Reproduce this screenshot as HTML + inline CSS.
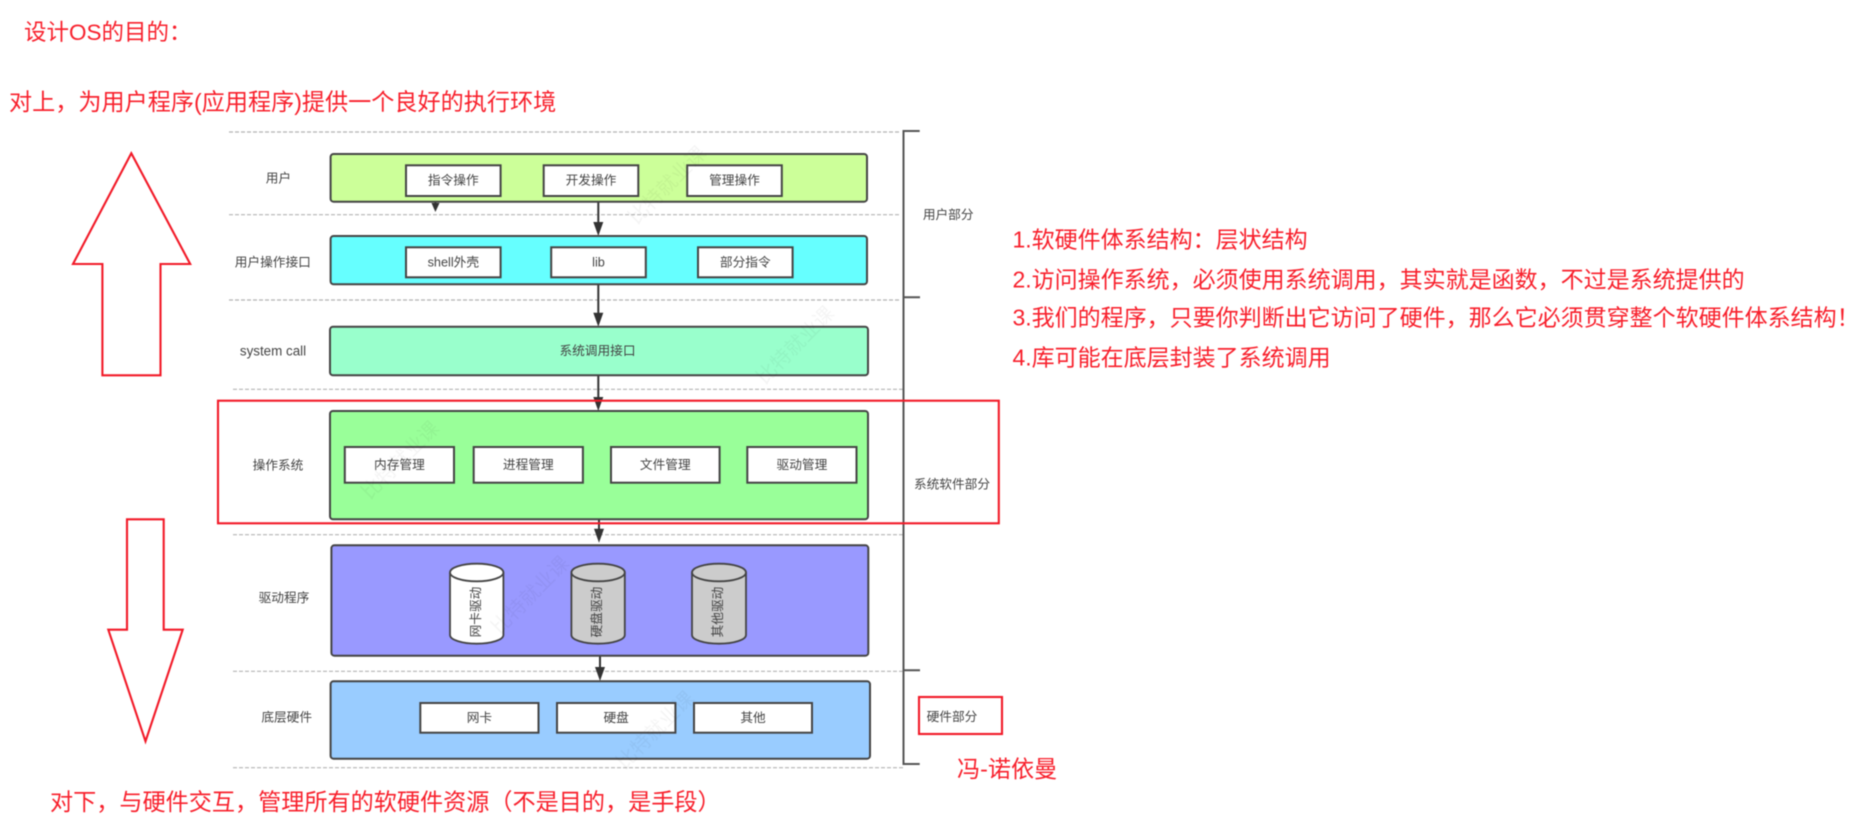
<!DOCTYPE html>
<html lang="zh">
<head>
<meta charset="utf-8">
<title>设计OS的目的</title>
<style>
html,body{margin:0;padding:0;background:#fff;width:1866px;height:828px;overflow:hidden}
svg{display:block;filter:blur(.45px)}
text{font-family:"Liberation Sans","Noto Sans CJK SC",sans-serif}
.red{fill:#f8202c;font-size:23.13px}
.note{font-size:23px}
.lab{fill:#444;font-size:12.7px;text-anchor:middle;dominant-baseline:central}
.dash{stroke:#b4b4b4;stroke-width:1.2;stroke-dasharray:4 2;fill:none}
.layer{stroke:#444;stroke-width:2}
.inner{fill:#fff;stroke:#444;stroke-width:2}
.arr{stroke:#333;stroke-width:2;fill:none}
.head{fill:#333;stroke:none}
.rl{fill:none;stroke:#f21a28;stroke-width:2.1}
.br{stroke:#555;stroke-width:2;fill:none}
.cyl{stroke:#444;stroke-width:1.8}
.wm{fill:#000;opacity:.04;font-size:20px;text-anchor:middle}
</style>
</head>
<body>
<svg width="1866" height="828" viewBox="0 0 1866 828" xmlns="http://www.w3.org/2000/svg">
<rect width="1866" height="828" fill="#fff"/>

<!-- top headings -->
<text class="red" x="24" y="40" style="font-size:22.5px">设计OS的目的：</text>
<text class="red" x="9" y="110">对上，为用户程序(应用程序)提供一个良好的执行环境</text>

<!-- dashed separators -->
<line class="dash" x1="229" y1="132" x2="899" y2="132"/>
<line class="dash" x1="229" y1="214.7" x2="899" y2="214.7"/>
<line class="dash" x1="229" y1="300" x2="899" y2="300"/>
<line class="dash" x1="233" y1="389.3" x2="903" y2="389.3"/>
<line class="dash" x1="233" y1="534.7" x2="903" y2="534.7"/>
<line class="dash" x1="233" y1="671.3" x2="903" y2="671.3"/>
<line class="dash" x1="233" y1="767.7" x2="903" y2="767.7"/>

<!-- connectors -->
<line class="arr" x1="435.4" y1="201" x2="435.4" y2="206"/>
<polygon class="head" points="431.5,203 439.5,203 435.4,212"/>
<line class="arr" x1="598.3" y1="201" x2="598.3" y2="224"/>
<polygon class="head" points="593.3,222 603.3,222 598.3,236"/>
<line class="arr" x1="598.3" y1="284" x2="598.3" y2="315"/>
<polygon class="head" points="593.3,312.7 603.3,312.7 598.3,326.7"/>
<line class="arr" x1="598.3" y1="375" x2="598.3" y2="400"/>
<polygon class="head" points="593.3,397 603.3,397 598.3,411"/>
<line class="arr" x1="599" y1="519" x2="599" y2="531"/>
<polygon class="head" points="594,528.7 604,528.7 599,542.7"/>
<line class="arr" x1="600" y1="655" x2="600" y2="670"/>
<polygon class="head" points="595,667 605,667 600,681"/>

<!-- layer 1: user -->
<rect class="layer" x="330.6" y="154" width="536.4" height="47.7" rx="3" fill="#ccff99" stroke="#222"/>
<rect class="inner" x="406" y="165.3" width="94.6" height="30.7"/>
<rect class="inner" x="543.7" y="165.3" width="94.6" height="30.7"/>
<rect class="inner" x="687.2" y="165.3" width="94.6" height="30.7"/>
<text class="lab" x="453.3" y="180.7">指令操作</text>
<text class="lab" x="591" y="180.7">开发操作</text>
<text class="lab" x="734.5" y="180.7">管理操作</text>

<!-- layer 2: user interface -->
<rect class="layer" x="330.6" y="236" width="536.4" height="48.3" rx="3" fill="#66ffff"/>
<rect class="inner" x="406" y="247.3" width="94.6" height="30"/>
<rect class="inner" x="551.2" y="247.3" width="94.6" height="30"/>
<rect class="inner" x="698" y="247.3" width="94.6" height="30"/>
<text class="lab" x="453.3" y="262.3">shell外壳</text>
<text class="lab" x="598.5" y="262.3">lib</text>
<text class="lab" x="745.3" y="262.3">部分指令</text>

<!-- layer 3: system call -->
<rect class="layer" x="330" y="326.7" width="538" height="48.6" rx="3" fill="#99ffcc"/>
<text class="lab" x="597.5" y="351">系统调用接口</text>

<!-- layer 4: OS -->
<rect class="layer" x="330" y="411" width="538" height="108.3" rx="3" fill="#99ff99"/>
<rect class="inner" x="344.8" y="447" width="109.2" height="35.7"/>
<rect class="inner" x="473.7" y="447" width="109.2" height="35.7"/>
<rect class="inner" x="611" y="447" width="108.6" height="35.7"/>
<rect class="inner" x="747.3" y="447" width="109.2" height="35.7"/>
<text class="lab" x="399.4" y="465">内存管理</text>
<text class="lab" x="528.3" y="465">进程管理</text>
<text class="lab" x="665.3" y="465">文件管理</text>
<text class="lab" x="801.9" y="465">驱动管理</text>

<!-- layer 5: drivers -->
<rect class="layer" x="331.4" y="545.3" width="536.9" height="110.4" rx="3" fill="#9999ff"/>
<g class="cyl">
<path d="M450 572.5V635c0 4.8 12 8.7 26.7 8.7s26.7-3.9 26.7-8.7V572.5" fill="#fff"/>
<ellipse cx="476.7" cy="572.5" rx="26.7" ry="8.8" fill="#fff"/>
<path d="M571.4 572.5V635c0 4.8 12 8.7 26.7 8.7s26.7-3.9 26.7-8.7V572.5" fill="#ccc"/>
<ellipse cx="598.1" cy="572.5" rx="26.7" ry="8.8" fill="#ccc"/>
<path d="M692 572.5V635c0 4.8 12 8.7 27 8.7s27-3.9 27-8.7V572.5" fill="#ccc"/>
<ellipse cx="719" cy="572.5" rx="27" ry="8.8" fill="#ccc"/>
</g>
<text class="lab" transform="translate(476,612) rotate(-90)">网卡驱动</text>
<text class="lab" transform="translate(597,612) rotate(-90)">硬盘驱动</text>
<text class="lab" transform="translate(718,612) rotate(-90)">其他驱动</text>

<!-- layer 6: hardware -->
<rect class="layer" x="330.6" y="681.3" width="539.4" height="77.4" rx="3" fill="#99ccff"/>
<rect class="inner" x="420.3" y="703" width="118.2" height="29.7"/>
<rect class="inner" x="557" y="703" width="118.4" height="29.7"/>
<rect class="inner" x="694" y="703" width="118" height="29.7"/>
<text class="lab" x="479.4" y="717.8">网卡</text>
<text class="lab" x="616.2" y="717.8">硬盘</text>
<text class="lab" x="753" y="717.8">其他</text>

<!-- left labels -->
<text class="lab" x="278.4" y="178.3">用户</text>
<text class="lab" x="272.8" y="262.7">用户操作接口</text>
<text class="lab" x="273" y="351" style="font-size:13.4px">system call</text>
<text class="lab" x="278" y="465.3">操作系统</text>
<text class="lab" x="284" y="598">驱动程序</text>
<text class="lab" x="286.7" y="717.7">底层硬件</text>

<!-- bracket -->
<path class="br" d="M919.7 131H903.5V764H919.7"/>
<line class="br" x1="903.5" y1="297.3" x2="920" y2="297.3"/>
<line class="br" x1="903.5" y1="670.3" x2="920" y2="670.3"/>
<text class="lab" x="948.2" y="215">用户部分</text>
<text class="lab" x="952" y="484.3">系统软件部分</text>
<text class="lab" x="952" y="717">硬件部分</text>

<!-- red annotations -->
<polygon class="rl" points="131.3,153.3 190.2,264 160.5,264 160.5,375.3 102.4,375.3 102.4,264 73,264"/>
<polygon class="rl" points="127,519.3 163.7,519.3 163.7,629.7 182.7,629.7 145.5,741.3 108.3,629.7 127,629.7"/>
<rect class="rl" x="218" y="400.7" width="780.8" height="122.6"/>
<rect class="rl" x="919" y="697" width="83" height="37"/>

<!-- right notes -->
<text class="red note" x="1012.5" y="247.5">1.软硬件体系结构：层状结构</text>
<text class="red note" x="1012.5" y="287.5">2.访问操作系统，必须使用系统调用，其实就是函数，不过是系统提供的</text>
<text class="red note" x="1012.5" y="325.5">3.我们的程序，只要你判断出它访问了硬件，那么它必须贯穿整个软硬件体系结构！</text>
<text class="red note" x="1012.5" y="365.5">4.库可能在底层封装了系统调用</text>

<text class="red" x="957" y="777">冯-诺依曼</text>
<text class="red" x="50" y="810">对下，与硬件交互，管理所有的软硬件资源（不是目的，是手段）</text>

<!-- watermarks -->
<text class="wm" transform="translate(672,190) rotate(-45)">比特就业课</text>
<text class="wm" transform="translate(800,350) rotate(-45)">比特就业课</text>
<text class="wm" transform="translate(405,465) rotate(-45)">比特就业课</text>
<text class="wm" transform="translate(535,600) rotate(-45)">比特就业课</text>
<text class="wm" transform="translate(660,735) rotate(-45)">比特就业课</text>
</svg>
</body>
</html>
